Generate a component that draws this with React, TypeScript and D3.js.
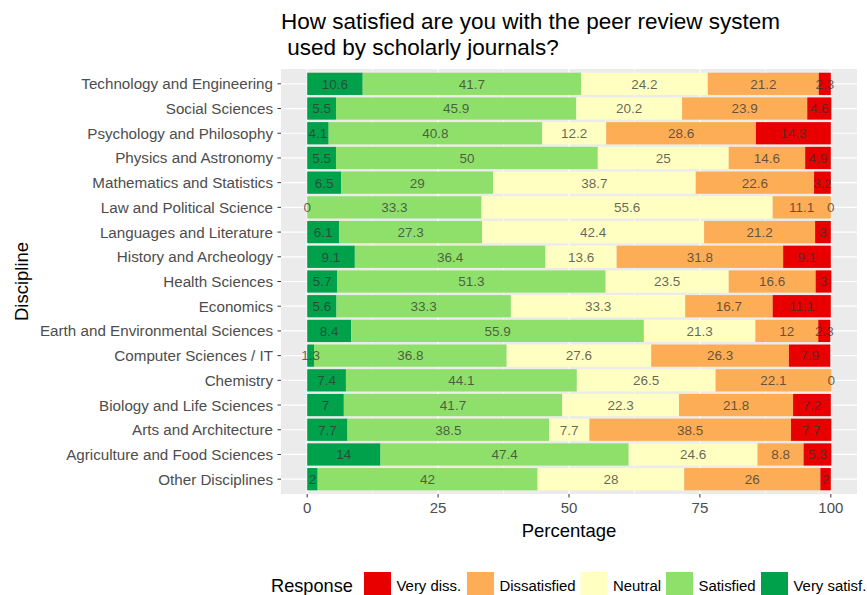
import React from "react";
import * as d3 from "d3";

const disciplines = [
  "Technology and Engineering",
  "Social Sciences",
  "Psychology and Philosophy",
  "Physics and Astronomy",
  "Mathematics and Statistics",
  "Law and Political Science",
  "Languages and Literature",
  "History and Archeology",
  "Health Sciences",
  "Economics",
  "Earth and Environmental Sciences",
  "Computer Sciences / IT",
  "Chemistry",
  "Biology and Life Sciences",
  "Arts and Architecture",
  "Agriculture and Food Sciences",
  "Other Disciplines",
];

const verySatisfied = [10.6, 5.5, 4.1, 5.5, 6.5, 0, 6.1, 9.1, 5.7, 5.6, 8.4, 1.3, 7.4, 7, 7.7, 14, 2];
const satisfied = [41.7, 45.9, 40.8, 50, 29, 33.3, 27.3, 36.4, 51.3, 33.3, 55.9, 36.8, 44.1, 41.7, 38.5, 47.4, 42];
const neutral = [24.2, 20.2, 12.2, 25, 38.7, 55.6, 42.4, 13.6, 23.5, 33.3, 21.3, 27.6, 26.5, 22.3, 7.7, 24.6, 28];
const dissatisfied = [21.2, 23.9, 28.6, 14.6, 22.6, 11.1, 21.2, 31.8, 16.6, 16.7, 12, 26.3, 22.1, 21.8, 38.5, 8.8, 26];
const veryDissatisfied = [2.3, 4.6, 14.3, 4.9, 3.2, 0, 3, 9.1, 3, 11.1, 2.3, 7.9, 0, 7.2, 7.7, 5.3, 2];

const xTicks = [0, 25, 50, 75, 100];
const legendLabels = ["Very diss.", "Dissatisfied", "Neutral", "Satisfied", "Very satisf."];

const series = [
  { key: "Very satisf.", values: verySatisfied, color: "#00A14B" },
  { key: "Satisfied", values: satisfied, color: "#8FE06A" },
  { key: "Neutral", values: neutral, color: "#FFFFC2" },
  { key: "Dissatisfied", values: dissatisfied, color: "#FDAD56" },
  { key: "Very diss.", values: veryDissatisfied, color: "#E80000" },
];
const colorOf: Record<string, string> = Object.fromEntries(series.map((s) => [s.key, s.color]));

const W = 867;
const H = 595;
const panel = { left: 281, right: 857, top: 69, bottom: 494 };
const font = "Liberation Sans, Arial, sans-serif";

export default function App() {
  const x = d3.scaleLinear().domain([-5, 105]).range([panel.left, panel.right]);
  const y = d3.scalePoint<string>().domain(disciplines).range([panel.top, panel.bottom]).padding(0.6);
  const step = y.step();
  const bh = step * 0.9;

  const rows = disciplines.map((d, i) => {
    let acc = 0;
    const segs = series.map((s) => {
      const v = s.values[i];
      const seg = { key: s.key, color: s.color, x0: acc, x1: acc + v, v };
      acc += v;
      return seg;
    });
    return { d, segs };
  });

  const minor = [12.5, 37.5, 62.5, 87.5];

  return (
    <svg width={W} height={H} style={{ position: "absolute", left: 0, top: 0 }} fontFamily={font}>
      <rect x={0} y={0} width={W} height={H} fill="#fff" />
      {/* title */}
      <text x={281} y={29} fontSize={22.5} fill="#000">How satisfied are you with the peer review system</text>
      <text x={281} y={55} fontSize={22.5} fill="#000" style={{ whiteSpace: "pre" }}>{" used by scholarly journals?"}</text>

      {/* panel */}
      <rect x={panel.left} y={panel.top} width={panel.right - panel.left} height={panel.bottom - panel.top} fill="#EBEBEB" />
      {minor.map((t) => (
        <line key={"m" + t} x1={x(t)} x2={x(t)} y1={panel.top} y2={panel.bottom} stroke="#fff" strokeWidth={0.6} />
      ))}
      {xTicks.map((t) => (
        <line key={"g" + t} x1={x(t)} x2={x(t)} y1={panel.top} y2={panel.bottom} stroke="#fff" strokeWidth={1.2} />
      ))}
      {disciplines.map((d) => (
        <line key={"h" + d} x1={panel.left} x2={panel.right} y1={y(d)!} y2={y(d)!} stroke="#fff" strokeWidth={1.2} />
      ))}

      {/* bars */}
      {rows.map((r) =>
        r.segs.map((s) => (
          <rect
            key={r.d + s.key}
            x={x(s.x0)}
            y={y(r.d)! - bh / 2}
            width={Math.max(0, x(s.x1) - x(s.x0))}
            height={bh}
            fill={s.color}
          />
        ))
      )}
      {rows.map((r) =>
        r.segs.map((s) => (
          <text
            key={"t" + r.d + s.key}
            x={x((s.x0 + s.x1) / 2)}
            y={y(r.d)!}
            dy="0.36em"
            textAnchor="middle"
            fontSize={13.5}
            fill="#333"
            fillOpacity={0.75}
          >
            {String(s.v)}
          </text>
        ))
      )}

      {/* y axis */}
      {disciplines.map((d) => (
        <g key={"ya" + d}>
          <line x1={panel.left - 3.5} x2={panel.left} y1={y(d)!} y2={y(d)!} stroke="#333" strokeWidth={1} />
          <text x={panel.left - 8} y={y(d)!} dy="0.36em" textAnchor="end" fontSize={15.2} fill="#4D4D4D">
            {d}
          </text>
        </g>
      ))}
      {/* x axis */}
      {xTicks.map((t) => (
        <g key={"xa" + t}>
          <line x1={x(t)} x2={x(t)} y1={panel.bottom} y2={panel.bottom + 3.5} stroke="#333" strokeWidth={1} />
          <text x={x(t)} y={panel.bottom + 19} textAnchor="middle" fontSize={15} fill="#4D4D4D">
            {t}
          </text>
        </g>
      ))}
      <text x={(panel.left + panel.right) / 2} y={537} textAnchor="middle" fontSize={18.5} fill="#000">Percentage</text>
      <text transform={`translate(28,${(panel.top + panel.bottom) / 2}) rotate(-90)`} textAnchor="middle" fontSize={18.5} fill="#000">
        Discipline
      </text>

      {/* legend */}
      <text x={271} y={592} fontSize={18.2} fill="#000">Response</text>
      {(() => {
        const keyX = [364, 467, 580.5, 666, 761];
        return legendLabels.map((l, i) => (
          <g key={"lg" + l}>
            <rect x={keyX[i]} y={572} width={27} height={27} fill={colorOf[l]} />
            <text x={keyX[i] + 32.5} y={590.5} fontSize={14.9} fill="#000">{l}</text>
          </g>
        ));
      })()}
    </svg>
  );
}
